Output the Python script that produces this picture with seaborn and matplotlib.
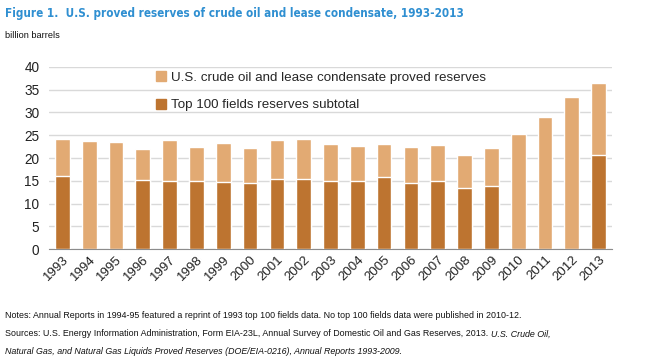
import numpy as np
import pandas as pd
import seaborn as sns
from matplotlib import pyplot as plt
from matplotlib.patches import Patch

# data (billion barrels)
years = [str(y) for y in range(1993, 2014)]
total_reserves = [24.1, 23.7, 23.4, 21.9, 23.9, 22.4, 23.3, 22.2, 23.9, 24.1, 23.1,
                  22.6, 23.1, 22.4, 22.8, 20.7, 22.3, 25.2, 29.0, 33.4, 36.5]
top100_subtotal = [16.0, np.nan, np.nan, 15.2, 15.0, 15.0, 14.7, 14.5, 15.4, 15.4, 15.0,
                   15.0, 15.8, 14.5, 15.0, 13.4, 13.9, np.nan, np.nan, np.nan, 20.7]

light_color = '#E2AA73'
dark_color = '#BD7430'

df = pd.DataFrame({'year': years, 'total': total_reserves, 'top100': top100_subtotal})

sns.set_style('white')
plt.rcParams['font.family'] = ['Liberation Sans', 'DejaVu Sans']

fig = plt.figure(figsize=(6.62, 3.58), dpi=100)
ax = fig.add_axes([49 / 662, 1 - 249.3 / 358, (612 - 49) / 662, (249.3 - 66.7) / 358])

sns.barplot(data=df, x='year', y='total', color=light_color, width=0.55,
            saturation=1, ax=ax, zorder=2)
sns.barplot(data=df.dropna(), x='year', y='top100', order=years, color=dark_color,
            width=0.55, saturation=1, ax=ax, zorder=3)

ax.set_ylim(0, 40)
ax.set_xlim(-0.5, len(years) - 0.5)
ax.set_yticks(range(0, 41, 5))
ax.yaxis.grid(True, color='#d9d9d9', linewidth=1, zorder=0)
ax.set_axisbelow(True)
for side in ['left', 'right', 'top']:
    ax.spines[side].set_visible(False)
ax.spines['bottom'].set_color('#8c8c8c')
ax.set_xlabel('')
ax.set_ylabel('')

ax.tick_params(axis='y', length=0, labelsize=9.8, labelcolor='#222222', pad=7)
ax.tick_params(axis='x', which='major', length=0, labelsize=9.5, labelcolor='#222222', pad=3)
ax.set_xticks(np.arange(-0.5, len(years), 1), minor=True)
ax.tick_params(axis='x', which='minor', length=5, color='#8c8c8c', direction='out')
plt.setp(ax.get_xticklabels(), rotation=45, ha='right', rotation_mode='anchor')

handles = [Patch(color=light_color), Patch(color=dark_color)]
labels = ['U.S. crude oil and lease condensate proved reserves',
          'Top 100 fields reserves subtotal']
ax.legend(handles, labels, loc='upper left', bbox_to_anchor=(156 / 662, 1 - 71 / 358),
          bbox_transform=fig.transFigure, frameon=False, fontsize=9.6,
          handlelength=0.75, handleheight=0.75, handletextpad=0.35, labelspacing=1.15,
          borderaxespad=0, borderpad=0)

# title and unit
fig.text(5 / 662, 1 - 14 / 358, 'Figure 1.  U.S. proved reserves of crude oil and lease condensate, 1993-2013',
         fontsize=8.4, fontweight='bold', color='#2F8FD1', va='center', ha='left',
         fontstretch='condensed', family=['DejaVu Sans', 'Liberation Sans'])
fig.text(5 / 662, 1 - 36 / 358, 'billion barrels', fontsize=6.6, color='#111111',
         va='center', ha='left')

# notes and sources
note_font = dict(fontsize=6.4, color='#111111', va='center', ha='left')
fig.text(5 / 662, 1 - 316 / 358,
         'Notes: Annual Reports in 1994-95 featured a reprint of 1993 top 100 fields data. '
         'No top 100 fields data were published in 2010-12.', **note_font)
src = fig.text(5 / 662, 1 - 334 / 358,
               'Sources: U.S. Energy Information Administration, Form EIA-23L, Annual Survey '
               'of Domestic Oil and Gas Reserves, 2013. ', **note_font)
ax.annotate('U.S. Crude Oil,', xy=(1, 0.5), xycoords=src, fontsize=6.4, color='#111111',
            style='italic', va='center', ha='left', annotation_clip=False)
fig.text(5 / 662, 1 - 351 / 358,
         'Natural Gas, and Natural Gas Liquids Proved Reserves (DOE/EIA-0216), Annual Reports 1993-2009.',
         style='italic', **note_font)

fig.savefig('out.png', dpi=100)
